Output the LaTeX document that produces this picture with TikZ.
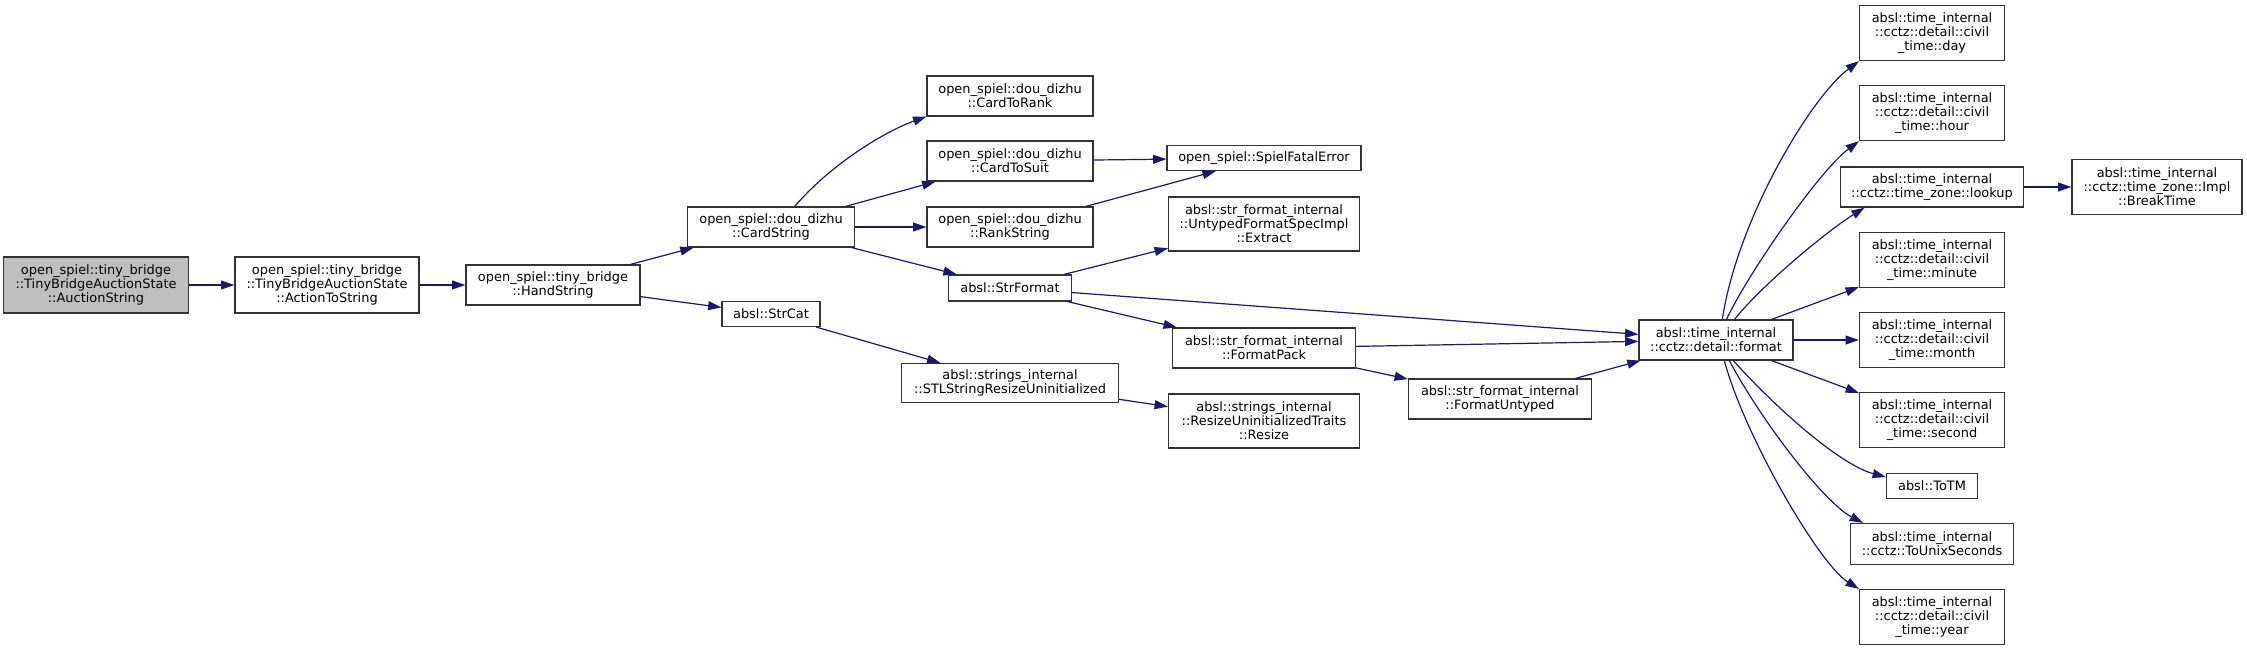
\documentclass[tikz,border=0pt]{standalone}
\usepackage{fontspec}
\setmainfont{DejaVu Sans}
\usetikzlibrary{arrows.meta}
\definecolor{calledge}{RGB}{25,25,112}
\tikzset{
  fn/.style={draw=black!80,line width=0.9pt,fill=white,align=center,inner sep=0pt,
    font=\fontsize{9.7}{10.5}\selectfont},
  sz/.style 2 args={minimum width=#1*0.75pt,minimum height=#2*0.75pt},
  call/.style={draw=calledge,line width=0.9pt,-{Triangle[length=10pt,width=6.7pt]}},
}

\begin{document}
\begin{tikzpicture}[x=0.75pt,y=-0.75pt]
  \useasboundingbox (0,0) rectangle (2247,651);
  % tiny_bridge chain
  \node[fn,sz={185}{56},fill=black!25] (auction) at (96,285)
    {open\_spiel::tiny\_bridge\\::TinyBridgeAuctionState\\::AuctionString};
  \node[fn,sz={184}{56}] (action) at (327,285)
    {open\_spiel::tiny\_bridge\\::TinyBridgeAuctionState\\::ActionToString};
  \node[fn,sz={174}{40}] (hand) at (553,285) {open\_spiel::tiny\_bridge\\::HandString};
  % dou_dizhu column
  \node[fn,sz={167}{40}] (cardstr) at (771,227) {open\_spiel::dou\_dizhu\\::CardString};
  \node[fn,sz={98}{25}] (strcat) at (771,314) {absl::StrCat};
  \node[fn,sz={166}{40}] (cardrank) at (1010,96) {open\_spiel::dou\_dizhu\\::CardToRank};
  \node[fn,sz={166}{40}] (cardsuit) at (1010,161) {open\_spiel::dou\_dizhu\\::CardToSuit};
  \node[fn,sz={166}{40}] (rankstr) at (1010,227) {open\_spiel::dou\_dizhu\\::RankString};
  \node[fn,sz={123}{26}] (strformat) at (1010,288) {absl::StrFormat};
  \node[fn,sz={217}{39}] (stlresize) at (1010,383)
    {absl::strings\_internal\\::STLStringResizeUninitialized};
  % absl internals
  \node[fn,sz={194}{25}] (fatal) at (1264,158) {open\_spiel::SpielFatalError};
  \node[fn,sz={191}{54}] (extract) at (1264,224)
    {absl::str\_format\_internal\\::UntypedFormatSpecImpl\\::Extract};
  \node[fn,sz={183}{40}] (fmtpack) at (1264,348) {absl::str\_format\_internal\\::FormatPack};
  \node[fn,sz={191}{54}] (resize) at (1264,421)
    {absl::strings\_internal\\::ResizeUninitializedTraits\\::Resize};
  \node[fn,sz={183}{40}] (untyped) at (1500,399) {absl::str\_format\_internal\\::FormatUntyped};
  \node[fn,sz={154}{40}] (format) at (1716,340) {absl::time\_internal\\::cctz::detail::format};
  % time_internal leaves
  \node[fn,sz={145}{55}] (day) at (1932,33) {absl::time\_internal\\::cctz::detail::civil\\\_time::day};
  \node[fn,sz={145}{55}] (hour) at (1932,113) {absl::time\_internal\\::cctz::detail::civil\\\_time::hour};
  \node[fn,sz={183}{40}] (lookup) at (1932,187) {absl::time\_internal\\::cctz::time\_zone::lookup};
  \node[fn,sz={170}{55}] (breaktime) at (2157,187)
    {absl::time\_internal\\::cctz::time\_zone::Impl\\::BreakTime};
  \node[fn,sz={145}{55}] (minute) at (1932,260) {absl::time\_internal\\::cctz::detail::civil\\\_time::minute};
  \node[fn,sz={145}{55}] (month) at (1932,340) {absl::time\_internal\\::cctz::detail::civil\\\_time::month};
  \node[fn,sz={145}{55}] (second) at (1932,420) {absl::time\_internal\\::cctz::detail::civil\\\_time::second};
  \node[fn,sz={91}{25}] (totm) at (1932,486) {absl::ToTM};
  \node[fn,sz={163}{41}] (unixsec) at (1932,544) {absl::time\_internal\\::cctz::ToUnixSeconds};
  \node[fn,sz={145}{55}] (year) at (1932,617) {absl::time\_internal\\::cctz::detail::civil\\\_time::year};

  % calls
  \draw[call] (auction) -- (action);
  \draw[call] (action) -- (hand);
  \draw[call] (hand) -- (cardstr);
  \draw[call] (hand) -- (strcat);
  \draw[call] (cardstr.41) .. controls +(36,-42) and +(-42,15) .. (cardrank.south west);
  \draw[call] (cardstr) -- (cardsuit);
  \draw[call] (cardstr) -- (rankstr);
  \draw[call] (cardstr) -- (strformat);
  \draw[call] (cardsuit) -- (fatal);
  \draw[call] (rankstr) -- (fatal);
  \draw[call] (strcat) -- (stlresize);
  \draw[call] (stlresize) -- (resize);
  \draw[call] (strformat) -- (extract);
  \draw[call] (strformat) -- (format);
  \draw[call] (strformat) -- (fmtpack);
  \draw[call] (fmtpack) -- (format);
  \draw[call] (fmtpack) -- (untyped);
  \draw[call] (untyped) -- (format);
  % format fans out
  \draw[call] (format.73) .. controls +(15,-100) and +(-48,36) .. (day.south west);
  \draw[call] (format.63) .. controls +(21,-45) and +(-40,30) .. (hour.south west);
  \draw[call] (format.48) .. controls +(25,-32) and +(-40,25) .. (lookup.197);
  \draw[call] (format) -- (minute);
  \draw[call] (format) -- (month);
  \draw[call] (format) -- (second);
  \draw[call] (format.310) .. controls +(45,50) and +(-45,-12) .. (totm.169);
  \draw[call] (format.303) .. controls +(30,57) and +(-40,-21) .. (unixsec.163);
  \draw[call] (format.292) .. controls +(20,75) and +(-40,-25) .. (year.north west);
  \draw[call] (lookup) -- (breaktime);
\end{tikzpicture}
\end{document}
